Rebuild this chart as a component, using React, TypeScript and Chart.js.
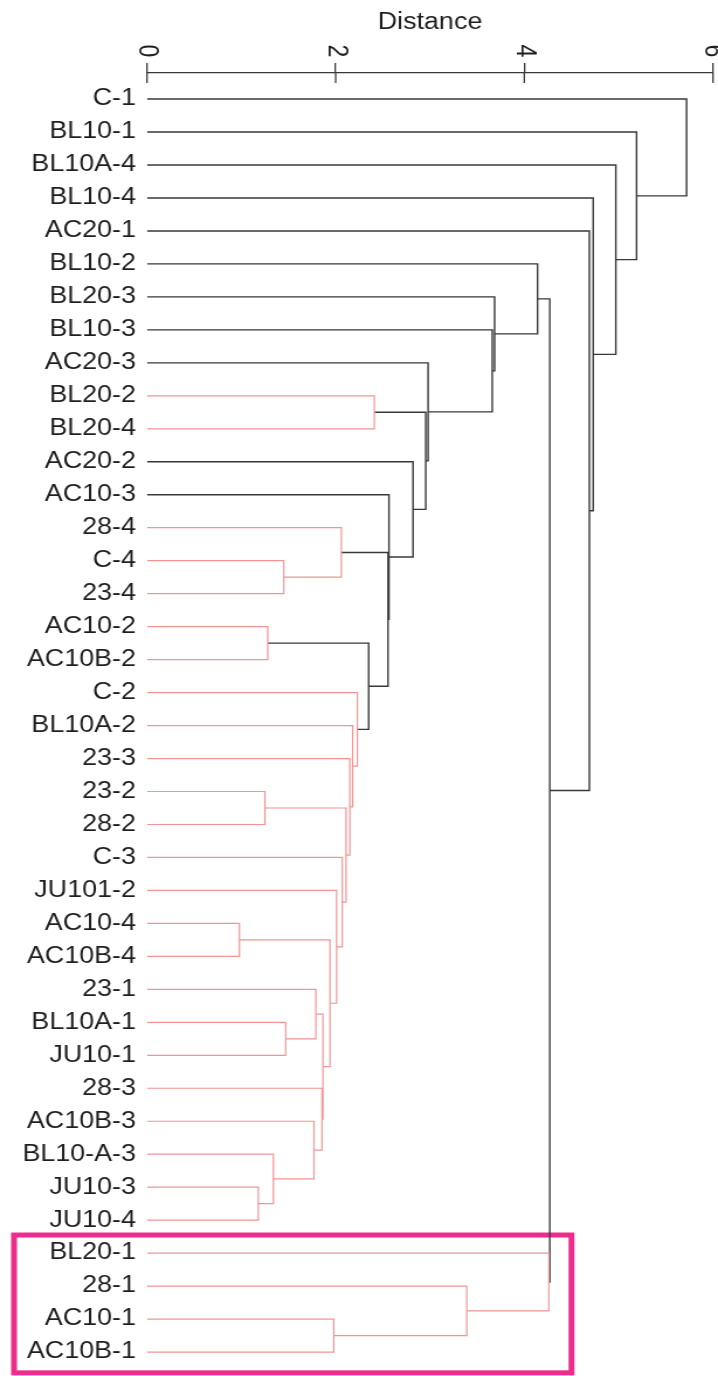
import React, { useEffect, useRef } from 'react';
import { Chart, registerables } from 'chart.js';

Chart.register(...registerables);

// Leaves of the dendrogram, top to bottom
const leafLabels = [
  'C-1', 'BL10-1', 'BL10A-4', 'BL10-4', 'AC20-1', 'BL10-2', 'BL20-3', 'BL10-3',
  'AC20-3', 'BL20-2', 'BL20-4', 'AC20-2', 'AC10-3', '28-4', 'C-4', '23-4',
  'AC10-2', 'AC10B-2', 'C-2', 'BL10A-2', '23-3', '23-2', '28-2', 'C-3',
  'JU101-2', 'AC10-4', 'AC10B-4', '23-1', 'BL10A-1', 'JU10-1', '28-3', 'AC10B-3',
  'BL10-A-3', 'JU10-3', 'JU10-4', 'BL20-1', '28-1', 'AC10-1', 'AC10B-1',
];

// hclust-style merge table: -n refers to leaf n (1-based), k refers to merge step k
const mergeLeft = [
  -26, -34, -22, -17, -15, -29, -33, -32, -28, -31,
  9, 1, -25, -38, -14, -24, 3, -21, -20, -19,
  4, -10, 15, -13, -12, 22, -9, -37, -8, -7,
  -6, -36, 31, -5, -4, -3, -2, -1,
];
const mergeRight = [
  -27, -35, -23, -18, -16, -30, 2, 7, 6, 8,
  10, 11, 12, -39, 5, 13, 16, 17, 18, 19,
  20, -11, 21, 23, 24, 25, 26, 14, 27, 29,
  30, 28, 32, 33, 34, 35, 36, 37,
];
const mergeHeight = [
  0.98, 1.18, 1.25, 1.28, 1.45, 1.47, 1.34, 1.77, 1.79, 1.855,
  1.865, 1.94, 2.01, 1.98, 2.06, 2.07, 2.11, 2.15, 2.18, 2.23,
  2.35, 2.41, 2.555, 2.565, 2.82, 2.955, 2.98, 3.39, 3.66, 3.685,
  4.14, 4.26, 4.27, 4.69, 4.73, 4.97, 5.19, 5.72,
];

// Merge steps whose whole subtree is drawn in the highlight colour
const highlightedMerges = [4, 15, 20, 22, 32];

// Leaves enclosed by the frame (0-based, inclusive) and its right edge in distance units
const framedLeafFirst = 35;
const framedLeafLast = 38;
const frameDistance = 4.5;

const distanceTicks = [0, 2, 4, 6];
const axisTitle = 'Distance';

const FONT = "'Liberation Sans', Arial, Helvetica, sans-serif";
const DARK = '#383838';
const TEXT = '#1e1e1e';
const PINK = 'rgb(242, 148, 148)';
const FRAME = '#ec2d8c';

const CANVAS_W = 614;
const CANVAS_H = 1376;
const STRETCH = 718 / CANVAS_W;

type Node = { p: number; h: number };

function buildSegments() {
  const pos: number[] = [];
  const hgt: number[] = [];
  const ref = (v: number): Node =>
    v < 0 ? { p: -v - 1, h: 0 } : { p: pos[v - 1], h: hgt[v - 1] };

  mergeLeft.forEach((l, k) => {
    const a = ref(l);
    const b = ref(mergeRight[k]);
    pos[k] = (a.p + b.p) / 2;
    hgt[k] = mergeHeight[k];
  });

  // propagate highlight colour down the tree
  const pink: boolean[] = mergeLeft.map((_, k) => highlightedMerges.includes(k + 1));
  for (let k = mergeLeft.length - 1; k >= 0; k--) {
    if (!pink[k]) continue;
    [mergeLeft[k], mergeRight[k]].forEach((c) => {
      if (c > 0) pink[c - 1] = true;
    });
  }

  return mergeLeft.map((l, k) => {
    const a = ref(l);
    const b = ref(mergeRight[k]);
    const h = hgt[k];
    return {
      data: [
        { x: a.h, y: a.p },
        { x: h, y: a.p },
        { x: h, y: b.p },
        { x: b.h, y: b.p },
      ],
      showLine: true,
      borderColor: pink[k] ? PINK : DARK,
      borderWidth: pink[k] ? 1.2 : 1.4,
      pointRadius: 0,
      pointHoverRadius: 0,
      fill: false,
      tension: 0,
      borderCapStyle: 'butt' as const,
      borderJoinStyle: 'miter' as const,
    };
  });
}

const dendroDecor = {
  id: 'dendroDecor',
  beforeDatasetsDraw(chart: any) {
    const { ctx } = chart;
    const xs = chart.scales.x;
    const ys = chart.scales.y;
    const top = ys.getPixelForValue(framedLeafFirst - 0.55);
    const bottom = ys.getPixelForValue(framedLeafLast + 0.63);
    const left = 12;
    const right = xs.getPixelForValue(frameDistance);
    ctx.save();
    ctx.strokeStyle = FRAME;
    ctx.lineWidth = 5;
    ctx.strokeRect(left, top, right - left, bottom - top);
    ctx.restore();
  },
  afterDraw(chart: any) {
    const { ctx, chartArea } = chart;
    const xs = chart.scales.x;
    ctx.save();
    ctx.strokeStyle = DARK;
    ctx.lineWidth = 1.3;
    ctx.fillStyle = TEXT;
    ctx.font = `23px ${FONT}`;
    ctx.textAlign = 'center';
    ctx.textBaseline = 'middle';
    xs.ticks.forEach((t: any) => {
      const px = xs.getPixelForValue(t.value);
      // lower half of the tick mark, crossing the axis line
      ctx.beginPath();
      ctx.moveTo(px, chartArea.top);
      ctx.lineTo(px, chartArea.top + 10);
      ctx.stroke();
      // tick label turned a quarter turn clockwise
      ctx.save();
      ctx.translate(px, chartArea.top - 22);
      ctx.rotate(Math.PI / 2);
      ctx.fillText(String(t.value), 0, 0);
      ctx.restore();
    });
    ctx.restore();
  },
};

export default function App() {
  const canvasRef = useRef<HTMLCanvasElement | null>(null);

  useEffect(() => {
    const canvas = canvasRef.current;
    if (!canvas) return;
    const chart = new Chart(canvas, {
      type: 'scatter',
      data: { datasets: buildSegments() as any },
      plugins: [dendroDecor],
      options: {
        animation: false,
        responsive: false,
        devicePixelRatio: 1,
        events: [],
        layout: { padding: { left: 0, right: 4.3, top: 0, bottom: 2.5 } },
        plugins: {
          legend: { display: false },
          tooltip: { enabled: false },
        },
        scales: {
          x: {
            type: 'linear',
            position: 'top',
            min: 0,
            max: 6,
            afterBuildTicks: (scale: any) => {
              scale.ticks = distanceTicks.map((v) => ({ value: v }));
            },
            afterFit: (scale: any) => {
              scale.height = 73;
              scale.paddingLeft = 0;
              scale.paddingRight = 0;
            },
            ticks: { display: false },
            grid: {
              display: true,
              drawOnChartArea: false,
              drawTicks: true,
              tickLength: 10,
              color: DARK,
              lineWidth: 1.3,
            },
            border: { display: true, color: DARK, width: 1.3 },
            title: {
              display: true,
              text: axisTitle,
              color: TEXT,
              font: { family: FONT, size: 23 },
              padding: { top: 9, bottom: 0 },
            },
          },
          y: {
            type: 'linear',
            position: 'left',
            reverse: true,
            min: -0.79,
            max: 38.65,
            afterBuildTicks: (scale: any) => {
              scale.ticks = leafLabels.map((_, i) => ({ value: i }));
            },
            afterFit: (scale: any) => {
              scale.width = 125.7;
              scale.paddingTop = 0;
              scale.paddingBottom = 0;
            },
            ticks: {
              autoSkip: false,
              padding: 9.4,
              color: TEXT,
              font: { family: FONT, size: 23 },
              callback: (v: any) => leafLabels[Number(v)] ?? '',
            },
            grid: { display: false, drawTicks: false },
            border: { display: false },
          },
        },
      } as any,
    });
    return () => chart.destroy();
  }, []);

  return (
    <div
      style={{
        position: 'absolute',
        left: 0,
        top: 0,
        width: 718,
        height: CANVAS_H,
        overflow: 'hidden',
        background: '#fff',
      }}
    >
      <div
        style={{
          width: CANVAS_W,
          height: CANVAS_H,
          transform: `scaleX(${STRETCH})`,
          transformOrigin: '0 0',
        }}
      >
        <canvas ref={canvasRef} width={CANVAS_W} height={CANVAS_H} />
      </div>
    </div>
  );
}
